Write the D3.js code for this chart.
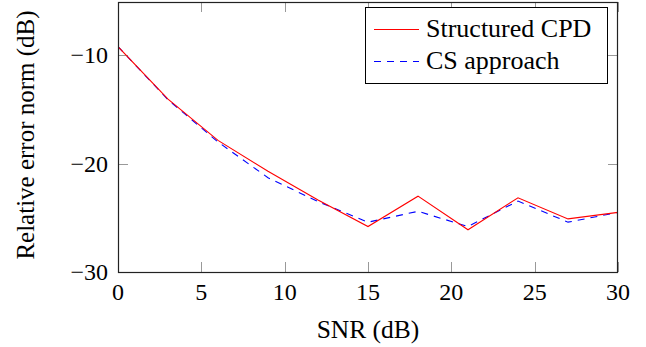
<!DOCTYPE html>
<html><head><meta charset="utf-8">
<script src="https://cdn.jsdelivr.net/npm/d3@7"></script>
<style>
body{margin:0;background:#fff}
svg{display:block}
svg text{font-family:"Liberation Serif","Times New Roman",Tinos,serif}
</style>
</head><body>
<svg id="chart" width="646" height="347" font-family="Liberation Serif" style="font-family:'Liberation Serif','Times New Roman',Tinos,serif"></svg>
<script>
const snr = [0, 3, 6, 9, 12, 15, 18, 21, 24, 27, 30];
const structuredCPD = [-9.2, -14.05, -17.85, -20.7, -23.35, -25.8, -23.0, -26.1, -23.15, -25.1, -24.5];
const csApproach = [-9.2, -14.1, -18.0, -21.3, -23.5, -25.4, -24.4, -25.8, -23.45, -25.4, -24.5];
const xTicks = [0, 5, 10, 15, 20, 25, 30];
const yTicks = [-30, -20, -10];
const seriesNames = ["Structured CPD", "CS approach"];

const svg = d3.select("#chart");
const L = 118, R = 618, T = 2, B = 272;
const x = d3.scaleLinear().domain([0, 30]).range([L, R]);
const y = d3.scaleLinear().domain([-30, -5.08]).range([B, T]);
const FONT = '"Liberation Serif", "Times New Roman", Tinos, serif';

const tickLen = 10;
const tg = svg.append("g").attr("stroke", "#999").attr("stroke-width", 1);
xTicks.forEach(v => {
  const xv = Math.round(x(v)) + 0.5;
  tg.append("line").attr("x1", xv).attr("x2", xv).attr("y1", B).attr("y2", B - tickLen);
  tg.append("line").attr("x1", xv).attr("x2", xv).attr("y1", T).attr("y2", T + tickLen);
});
yTicks.forEach(v => {
  const yv = Math.round(y(v)) + 0.5;
  tg.append("line").attr("x1", L).attr("x2", L + tickLen).attr("y1", yv).attr("y2", yv);
  tg.append("line").attr("x1", R).attr("x2", R - tickLen).attr("y1", yv).attr("y2", yv);
});

svg.append("clipPath").attr("id", "clip").append("rect")
  .attr("x", L).attr("y", T).attr("width", R - L).attr("height", B - T);

const line = d3.line().x((d, i) => x(snr[i])).y(d => y(d));
const g = svg.append("g").attr("clip-path", "url(#clip)");
g.append("path").datum(csApproach).attr("d", line)
  .attr("fill", "none").attr("stroke", "#0000ff").attr("stroke-width", 1.1)
  .attr("stroke-dasharray", "7,6");
g.append("path").datum(structuredCPD).attr("d", line)
  .attr("fill", "none").attr("stroke", "#ff0000").attr("stroke-width", 1.1);

svg.append("rect").attr("x", L + 0.5).attr("y", T + 0.5)
  .attr("width", R - L - 1).attr("height", B - T)
  .attr("fill", "none").attr("stroke", "#222").attr("stroke-width", 1.2);

function txt(sel, size) {
  return sel.append("text").style("font-family", FONT)
    .style("font-size", size + "px").attr("fill", "#000");
}

xTicks.forEach(v => {
  txt(svg, 24).attr("x", x(v)).attr("y", 300).attr("text-anchor", "middle").text(v);
});
yTicks.forEach(v => {
  txt(svg, 24).attr("x", 108).attr("y", y(v) + 8).attr("text-anchor", "end")
    .text(v < 0 ? "\u2212" + Math.abs(v) : v);
});

txt(svg, 25.5).attr("x", (L + R) / 2).attr("y", 338).attr("text-anchor", "middle").text("SNR (dB)");
txt(svg, 25).attr("transform", "translate(34,135) rotate(-90)").attr("text-anchor", "middle")
  .text("Relative error norm (dB)");

const leg = svg.append("g");
leg.append("rect").attr("x", 365.5).attr("y", 7.5).attr("width", 242).attr("height", 76)
  .attr("fill", "#fff").attr("stroke", "#000").attr("stroke-width", 1);
const legY = [29.5, 61.5];
const legColors = ["#ff0000", "#0000ff"];
const legDash = [null, "7,6"];
seriesNames.forEach((n, i) => {
  leg.append("line").attr("x1", 374).attr("x2", 419).attr("y1", legY[i]).attr("y2", legY[i])
    .attr("stroke", legColors[i]).attr("stroke-width", 1.1).attr("stroke-dasharray", legDash[i]);
  txt(leg, 26).attr("x", 426).attr("y", legY[i] + 7.5).text(n);
});
</script>
</body></html>
